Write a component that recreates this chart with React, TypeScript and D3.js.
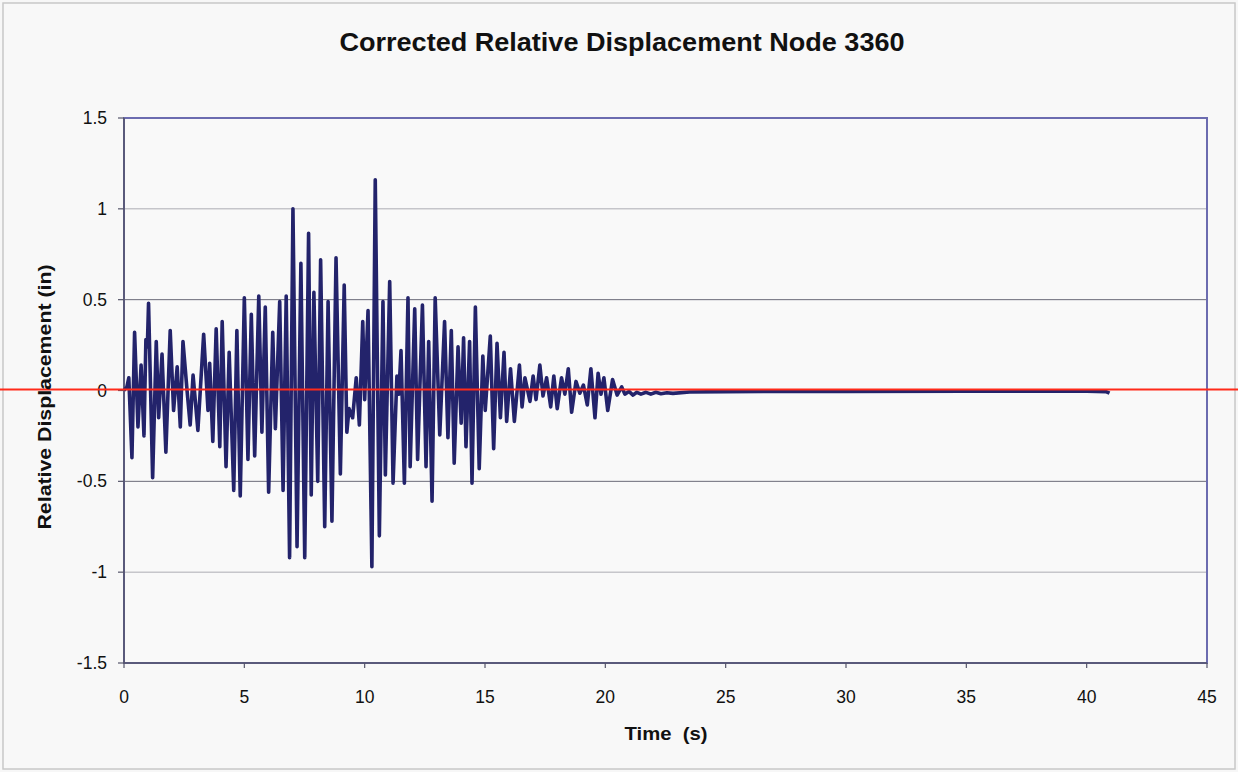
import React from "react";
import * as d3 from "d3";

// Time samples (s) and relative displacement (in) of node 3360
const timeS: number[] = [
  0, 0.12, 0.2, 0.33, 0.44, 0.58, 0.71, 0.83, 0.91, 0.97,
  1.02, 1.19, 1.34, 1.44, 1.58, 1.74, 1.92, 2.06, 2.21, 2.34,
  2.45, 2.62, 2.75, 2.87, 3.07, 3.31, 3.49, 3.56, 3.69, 3.83,
  3.98, 4.08, 4.24, 4.37, 4.56, 4.69, 4.83, 5.0, 5.15, 5.29,
  5.43, 5.6, 5.73, 5.87, 6.01, 6.18, 6.29, 6.47, 6.61, 6.74,
  6.88, 7.02, 7.19, 7.35, 7.51, 7.67, 7.78, 7.89, 8.05, 8.17,
  8.34, 8.48, 8.64, 8.81, 8.99, 9.15, 9.26, 9.35, 9.5, 9.65,
  9.78, 9.92, 10.0, 10.14, 10.3, 10.44, 10.61, 10.76, 10.86, 11.04,
  11.18, 11.34, 11.42, 11.51, 11.65, 11.8, 11.89, 12.08, 12.2, 12.4,
  12.55, 12.66, 12.8, 12.93, 13.12, 13.32, 13.46, 13.6, 13.72, 13.88,
  14.01, 14.11, 14.21, 14.36, 14.46, 14.6, 14.76, 14.91, 15.01, 15.22,
  15.36, 15.5, 15.64, 15.79, 15.9, 16.06, 16.22, 16.43, 16.54, 16.66,
  16.87, 17.0, 17.12, 17.28, 17.41, 17.56, 17.73, 17.86, 18.0, 18.18,
  18.32, 18.46, 18.6, 18.78, 18.94, 19.09, 19.25, 19.4, 19.57, 19.7,
  19.82, 19.94, 20.1, 20.3, 20.49, 20.68, 20.81, 20.98, 21.15, 21.31,
  21.48, 21.69, 21.89, 22.1, 22.31, 22.56, 22.81, 23.5, 25, 30,
  35, 40, 40.8, 40.95,
];

const displacementIn: number[] = [
  0, 0.02, 0.07, -0.37, 0.32, -0.2, 0.14, -0.25, 0.28, 0.24,
  0.48, -0.48, 0.27, -0.15, 0.2, -0.34, 0.33, -0.11, 0.13, -0.2,
  0.27, 0.0, -0.19, 0.085, -0.22, 0.31, -0.11, 0.15, -0.28, 0.34,
  -0.31, 0.38, -0.42, 0.21, -0.55, 0.33, -0.58, 0.51, -0.38, 0.42,
  -0.36, 0.52, -0.23, 0.46, -0.56, 0.32, -0.21, 0.49, -0.55, 0.52,
  -0.92, 1.0, -0.86, 0.7, -0.92, 0.865, -0.575, 0.54, -0.5, 0.72,
  -0.75, 0.49, -0.72, 0.73, -0.46, 0.58, -0.23, -0.1, -0.15, 0.07,
  -0.19, 0.38, -0.05, 0.44, -0.97, 1.16, -0.8, 0.49, -0.465, 0.6,
  -0.51, 0.08, -0.02, 0.22, -0.51, 0.51, -0.42, 0.45, -0.38, 0.47,
  -0.42, 0.27, -0.61, 0.51, -0.245, 0.38, -0.26, 0.33, -0.4, 0.24,
  -0.18, 0.29, -0.31, 0.27, -0.51, 0.46, -0.43, 0.19, -0.11, 0.3,
  -0.32, 0.26, -0.15, 0.21, -0.17, 0.12, -0.17, 0.14, -0.09, 0.07,
  -0.06, 0.08, -0.05, 0.14, -0.03, 0.07, -0.09, 0.08, -0.1, 0.07,
  -0.02, 0.12, -0.12, 0.05, -0.015, 0.03, -0.08, 0.12, -0.15, 0.095,
  -0.02, 0.07, -0.11, 0.06, -0.025, 0.02, -0.02, -0.005, -0.025, -0.01,
  -0.02, -0.01, -0.02, -0.01, -0.018, -0.012, -0.016, -0.008, -0.006, -0.005,
  -0.004, -0.004, -0.006, -0.015,
];

const xTicks: number[] = [0, 5, 10, 15, 20, 25, 30, 35, 40, 45];
const yTicks: number[] = [-1.5, -1, -0.5, 0, 0.5, 1, 1.5];
const yTickLabels: string[] = ["-1.5", "-1", "-0.5", "0", "0.5", "1", "1.5"];

const W = 1238;
const H = 772;
const plot = { left: 124, right: 1207, top: 118, bottom: 663 };

const FONT = "'Liberation Sans', Arial, Helvetica, sans-serif";

export default function App() {
  const x = d3.scaleLinear().domain([0, 45]).range([plot.left, plot.right]);
  const y = d3.scaleLinear().domain([-1.5, 1.5]).range([plot.bottom, plot.top]);

  const points: [number, number][] = d3.zip(timeS, displacementIn) as [number, number][];
  const line = d3
    .line<[number, number]>()
    .x((d) => x(d[0]))
    .y((d) => y(d[1]));

  return (
    <svg
      width={W}
      height={H}
      style={{ position: "fixed", left: 0, top: 0, display: "block" }}
      fontFamily={FONT}
    >
      <rect x={0} y={0} width={W} height={H} fill="#f7f7f7" />
      <rect x={3} y={3} width={W - 6} height={H - 6} fill="#f8f8f8" stroke="#c8c8c8" strokeWidth={1.5} />

      {/* plot area */}
      <rect
        x={plot.left}
        y={plot.top}
        width={plot.right - plot.left}
        height={plot.bottom - plot.top}
        fill="#f9f9f9"
      />

      {/* horizontal gridlines */}
      {yTicks
        .filter((v) => v !== -1.5 && v !== 1.5 && v !== 0)
        .map((v) => (
          <line
            key={`g${v}`}
            x1={plot.left}
            x2={plot.right}
            y1={y(v)}
            y2={y(v)}
            stroke={Math.abs(v) === 0.5 ? "#6a6a78" : "#acacb4"}
            strokeWidth={1}
          />
        ))}

      {/* plot border */}
      <rect
        x={plot.left}
        y={plot.top}
        width={plot.right - plot.left}
        height={plot.bottom - plot.top}
        fill="none"
        stroke="#6c6cb0"
        strokeWidth={2}
      />
      {/* axes */}
      <line x1={plot.left} x2={plot.left} y1={plot.top} y2={plot.bottom} stroke="#55556a" strokeWidth={1.5} />
      <line x1={plot.left} x2={plot.right} y1={plot.bottom} y2={plot.bottom} stroke="#55556a" strokeWidth={1.5} />

      {/* y ticks */}
      {yTicks.map((v, i) => (
        <g key={`y${v}`}>
          <line x1={plot.left - 6} x2={plot.left} y1={y(v)} y2={y(v)} stroke="#55556a" strokeWidth={1.2} />
          <text x={107} y={y(v) + 6} textAnchor="end" fontSize={17.5} fill="#111">
            {yTickLabels[i]}
          </text>
        </g>
      ))}

      {/* x ticks */}
      {xTicks.map((v) => (
        <g key={`x${v}`}>
          <line x1={x(v)} x2={x(v)} y1={plot.bottom} y2={plot.bottom + 5} stroke="#55556a" strokeWidth={1.2} />
          <text x={x(v)} y={703} textAnchor="middle" fontSize={17.5} fill="#111">
            {v}
          </text>
        </g>
      ))}

      {/* displacement series */}
      <path
        d={line(points) ?? ""}
        fill="none"
        stroke="#23236b"
        strokeWidth={3.6}
        strokeLinejoin="round"
        strokeLinecap="butt"
      />

      {/* zero reference line */}
      <line x1={0} x2={W} y1={y(0) - 1} y2={y(0) - 1} stroke="#ff2a1a" strokeWidth={2} />

      {/* title and axis labels */}
      <text
        x={622}
        y={51}
        textAnchor="middle"
        fontSize={26}
        fontWeight="bold"
        fill="#111"
        textLength={565}
        lengthAdjust="spacingAndGlyphs"
      >
        Corrected Relative Displacement Node 3360
      </text>
      <text
        x={666}
        y={740}
        textAnchor="middle"
        fontSize={19}
        fontWeight="bold"
        fill="#111"
        textLength={83}
        lengthAdjust="spacingAndGlyphs"
        style={{ whiteSpace: "pre" }}
      >
        {"Time  (s)"}
      </text>
      <text
        transform={`translate(51, 397) rotate(-90)`}
        textAnchor="middle"
        fontSize={19}
        fontWeight="bold"
        fill="#111"
        textLength={265}
        lengthAdjust="spacingAndGlyphs"
      >
        Relative Displacement (in)
      </text>
    </svg>
  );
}
